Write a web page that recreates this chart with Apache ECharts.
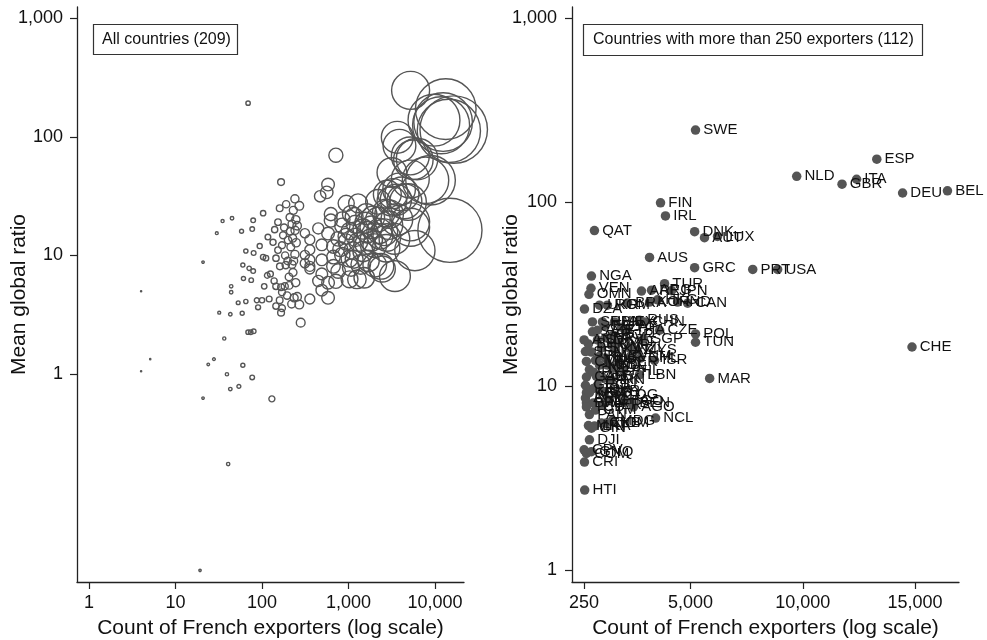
<!DOCTYPE html>
<html>
<head>
<meta charset="utf-8">
<script src="https://cdn.jsdelivr.net/npm/echarts@6/dist/echarts.min.js"></script>
<style>
  html, body { margin: 0; padding: 0; background: #fff; }
  #chart { width: 987px; height: 640px; }
</style>
</head>
<body>
<div id="chart"></div>
<script>
// countries with more than 250 French exporters (right panel, also big circles on the left)
const codes = [
  "SWE", "ESP", "NLD", "ITA", "GBR", "DEU", "BEL", "FIN", "IRL", "QAT",
  "DNK", "AUT", "LUX", "AUS", "GRC", "PRT", "USA", "NGA", "VEN", "TUR",
  "OMN", "JPN", "ARE", "ARG", "CAN", "DZA", "UKR", "ROM", "BRA", "KOR",
  "HKG", "IND", "SRB", "SAU", "HUN", "ZAF", "RUS", "CZE", "SGP", "POL",
  "TUN", "CHE", "MAR", "LBN", "NCL", "HTI", "CRI", "DJI", "BEN", "MDG",
  "LKA", "EGY", "MEX", "THA", "CHN", "ISR", "SVK", "HRV", "BGR", "SVN",
  "CYP", "MLT", "ISL", "NZL", "MYS", "KWT", "SEN", "CMR", "CIV", "GAB",
  "MUS", "PYF", "IDN", "PHL", "VNM", "CHL", "COL", "PER", "PAK", "IRN",
  "JOR", "SYR", "KEN", "GHA", "TGO", "BFA", "MLI", "NER", "TCD", "COG",
  "AGO", "MRT", "GIN", "CUB", "DOM", "CPV", "COM", "GNQ", "ECU", "URY",
  "PAN", "GTM", "BHR", "KAZ", "BLR", "AZE", "GEO", "ARM", "ALB", "MKD",
  "AND", "MCO"
];
const exporters = [
  5220, 13300, 9730, 12400, 11750, 14450, 16450, 3660, 3880, 714,
  5180, 5620, 6200, 3170, 5180, 7770, 8880, 580, 560, 3840,
  470, 4150, 2810, 3260, 4870, 270, 940, 1290, 2190, 3170,
  3530, 4420, 625, 625, 1070, 1920, 2720, 3620, 2900, 5220,
  5220, 14870, 5850, 2720, 3440, 280, 270, 491, 2370, 1520,
  714, 1161, 1608, 2188, 2946, 3393, 848, 1205, 1563, 1027,
  1473, 1830, 580, 2277, 2590, 938, 313, 357, 491, 357,
  759, 670, 1563, 2010, 2320, 2770, 1295, 1830, 1116, 1473,
  670, 1027, 357, 1384, 2010, 357, 670, 1070, 357, 1697,
  2455, 447, 580, 1027, 1250, 255, 357, 580, 848, 1161,
  491, 759, 447, 1652, 1205, 848, 313, 313, 803, 938,
  255, 491
];
const ratio = [
  246, 171, 138, 133, 125, 112, 115, 99, 84, 70,
  69, 64, 65, 50, 44, 43, 43, 39.6, 34, 36,
  31.5, 33, 32.8, 33.2, 28.2, 26.2, 27.5, 27.5, 28.3, 28.6,
  29.4, 28.6, 22.3, 19.7, 22.3, 20.9, 22.8, 20.1, 18, 19.2,
  17.3, 16.3, 11.0, 11.5, 6.7, 2.72, 3.86, 5.1, 8.1, 6.5,
  6.06, 21.3, 22.3, 20.1, 22.3, 13.8, 17.8, 18.3, 18.9, 16.1,
  16.7, 17.3, 15.3, 16.1, 15.7, 14.5, 15.4, 13.6, 12.3, 11.2,
  13.8, 11.9, 12.5, 12.1, 14.5, 14.2, 13.0, 13.5, 11.0, 10.8,
  9.7, 9.4, 9.2, 8.4, 8.3, 8.1, 8.1, 7.9, 7.7, 9.0,
  7.7, 6.1, 5.9, 6.3, 6.3, 4.5, 4.3, 4.4, 10.1, 9.3,
  7.0, 7.4, 16.9, 15.7, 14.2, 20.1, 10.1, 8.6, 11.3, 13.0,
  17.8, 9.2
];
// countries with 250 exporters or fewer (left panel only)
const smallExporters = [
  69, 166, 103, 35, 45, 30, 58, 79, 77, 153,
  117, 134, 222, 241, 153, 65, 80, 103, 111, 145,
  20.8, 60, 71, 79, 61, 75, 161, 188, 222, 106,
  145, 166, 183, 206, 170, 44, 44, 4, 53, 65,
  87, 100, 121, 90, 145, 170, 166, 32, 43, 59,
  36.6, 69, 74, 80, 5.1, 4, 23.9, 27.8, 60, 39.3,
  77, 54, 43, 20.8, 130, 40.6, 19.2, 190, 230, 200,
  215, 240, 175, 228, 205, 245, 195, 235, 180, 248,
  210, 160, 140, 125, 138, 220, 185, 240, 170, 198,
  226, 115, 160, 232, 94, 212, 246
];
const smallRatio = [
  192, 41.5, 22.7, 19.5, 20.6, 15.4, 16, 19.8, 16.7, 19.1,
  14.3, 12.9, 18.4, 16.3, 11.1, 10.9, 10.5, 9.7, 9.5, 9.5,
  8.8, 8.3, 7.8, 7.4, 6.4, 6.2, 8.1, 8.3, 8.4, 5.5,
  5.5, 5.4, 5.5, 5.6, 4.9, 5.5, 4.9, 5.0, 4.0, 4.1,
  4.2, 4.2, 4.3, 3.66, 3.75, 3.6, 3.3, 3.3, 3.2, 3.26,
  2.0, 2.26, 2.26, 2.3, 1.34, 1.06, 1.21, 1.34, 1.19, 1.0,
  0.94, 0.79, 0.75, 0.63, 0.62, 0.175, 0.0223, 27, 24, 13.5,
  11.8, 10.2, 14.8, 7.2, 6.6, 5.9, 4.6, 4.4, 17.2, 12.8,
  21, 25, 16.5, 7.0, 6.1, 3.9, 10.0, 30, 12.2, 9.0,
  14.0, 6.8, 4.2, 9.0, 12.0, 16.0, 20.0
];
const logTicks = [0, 1, 2, 3];
const leftXTicks = [0, 1, 2, 3, 4];
const rightXTicks = [250, 5000, 10000, 15000];

const FONT = "'Liberation Sans', Arial, sans-serif";
const INK = "#555";
const fmt = (n) => Math.round(n).toLocaleString("en-US");

const leftData = [];
codes.forEach((c, i) => leftData.push([Math.log10(exporters[i]), Math.log10(ratio[i]), exporters[i]]));
smallExporters.forEach((x, i) => leftData.push([Math.log10(x), Math.log10(smallRatio[i]), x]));

const rightData = codes.map((c, i) => ({ name: c, value: [exporters[i], Math.log10(ratio[i])] }));

const axisCommon = {
  axisLine: { onZero: false, lineStyle: { color: "#222", width: 1.3 } },
  axisTick: { length: 7, lineStyle: { color: "#222", width: 1.2 } },
  splitLine: { show: false },
  nameTextStyle: { color: "#111", fontSize: 21, fontFamily: FONT },
  nameLocation: "middle",
  nameMoveOverlap: false
};
const tickLabel = (values, margin, formatter) => ({
  customValues: values,
  margin,
  color: "#111",
  fontSize: 18,
  fontFamily: FONT,
  formatter
});

const chart = echarts.init(document.getElementById("chart"));
chart.setOption({
  animation: false,
  backgroundColor: "#fff",
  grid: [
    { left: 77, top: 7, width: 387, height: 575, outerBoundsMode: "none", containLabel: false },
    { left: 572, top: 7, width: 387, height: 575, outerBoundsMode: "none", containLabel: false }
  ],
  xAxis: [
    {
      ...axisCommon,
      gridIndex: 0,
      type: "value",
      min: -0.139,
      max: 4.335,
      name: "Count of French exporters (log scale)",
      nameGap: 36,
      axisTick: { ...axisCommon.axisTick, customValues: leftXTicks },
      axisLabel: tickLabel(leftXTicks, 12, (v) => fmt(Math.pow(10, v)))
    },
    {
      ...axisCommon,
      gridIndex: 1,
      type: "value",
      min: -286,
      max: 16964,
      name: "Count of French exporters (log scale)",
      nameGap: 36,
      axisTick: { ...axisCommon.axisTick, customValues: rightXTicks },
      axisLabel: tickLabel(rightXTicks, 12, (v) => fmt(v))
    }
  ],
  yAxis: [
    {
      ...axisCommon,
      gridIndex: 0,
      type: "value",
      min: -1.75,
      max: 3.093,
      name: "Mean global ratio",
      nameGap: 47,
      axisTick: { ...axisCommon.axisTick, customValues: logTicks },
      axisLabel: tickLabel(logTicks, 14, (v) => fmt(Math.pow(10, v)))
    },
    {
      ...axisCommon,
      gridIndex: 1,
      type: "value",
      min: -0.065,
      max: 3.06,
      name: "Mean global ratio",
      nameGap: 50,
      axisTick: { ...axisCommon.axisTick, customValues: logTicks },
      axisLabel: tickLabel(logTicks, 15, (v) => fmt(Math.pow(10, v)))
    }
  ],
  graphic: [
    {
      type: "rect",
      shape: { x: 93.5, y: 24.5, width: 144, height: 30 },
      style: { fill: "none", stroke: "#333", lineWidth: 1.2 }
    },
    {
      type: "text",
      x: 102,
      y: 40,
      style: { text: "All countries (209)", fill: "#111", font: "16px " + FONT, verticalAlign: "middle" }
    },
    {
      type: "rect",
      shape: { x: 583.5, y: 24.5, width: 339, height: 31 },
      style: { fill: "none", stroke: "#333", lineWidth: 1.2 }
    },
    {
      type: "text",
      x: 593,
      y: 40,
      style: { text: "Countries with more than 250 exporters (112)", fill: "#111", font: "16px " + FONT, verticalAlign: "middle" }
    }
  ],
  series: [
    {
      type: "scatter",
      xAxisIndex: 0,
      yAxisIndex: 0,
      data: leftData,
      symbol: "circle",
      symbolSize: (d) => Math.max(1.2, 0.526 * Math.sqrt(d[2])),
      itemStyle: { color: "rgba(0,0,0,0)", borderColor: INK, borderWidth: 1.4, opacity: 1 },
      emphasis: { disabled: true }
    },
    {
      type: "scatter",
      xAxisIndex: 1,
      yAxisIndex: 1,
      data: rightData,
      symbol: "circle",
      symbolSize: 9.5,
      itemStyle: { color: INK, opacity: 1 },
      label: {
        show: true,
        position: "right",
        distance: 3,
        formatter: (p) => p.name,
        color: "#111",
        fontSize: 15,
        fontFamily: FONT
      },
      labelLayout: { hideOverlap: false },
      emphasis: { disabled: true }
    }
  ]
});
</script>
</body>
</html>
